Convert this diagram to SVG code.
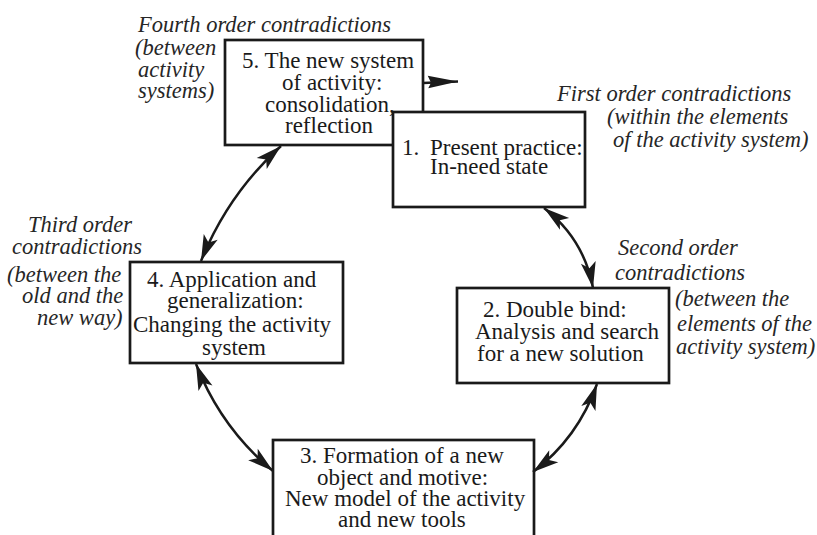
<svg xmlns="http://www.w3.org/2000/svg" width="817" height="535" viewBox="0 0 817 535">
  <style>
    .box { fill: #ffffff; stroke: #1a1a1a; stroke-width: 2.7; }
    .t { font-family: "Liberation Serif", "Times New Roman", serif; font-size: 23px; fill: #1a1a1a; }
    .i { font-family: "Liberation Serif", "Times New Roman", serif; font-style: italic; font-size: 22.5px; fill: #262626; }
    .conn { fill: none; stroke: #1a1a1a; stroke-width: 2.5; }
  </style>
  <defs>
    <!-- long, slightly notched arrowhead used at both ends of the cycle arcs -->
    <marker id="head" markerUnits="userSpaceOnUse" viewBox="-30 -9 32 18" refX="0" refY="0" markerWidth="32" markerHeight="18" orient="auto-start-reverse">
      <path d="M0,0 L-26,-7.5 L-20,0 L-26,7.5 Z" fill="#1a1a1a"/>
    </marker>
    <!-- pennant-shaped head on the outgoing arrow of stage 5 -->
    <marker id="flag" markerUnits="userSpaceOnUse" viewBox="-32 -9 34 18" refX="0" refY="0" markerWidth="34" markerHeight="18" orient="auto">
      <path d="M0,0 L-30,-7 L-27,0 L-30,5.5 Z" fill="#1a1a1a"/>
    </marker>
  </defs>

  <rect width="817" height="535" fill="#ffffff"/>

  <!-- contradiction labels -->
  <g id="label-fourth" class="i">
    <text x="138" y="32">Fourth order contradictions</text>
    <text x="135" y="55">(between</text>
    <text x="138" y="77">activity</text>
    <text x="138" y="98">systems)</text>
  </g>
  <g id="label-first" class="i">
    <text x="557" y="101">First order contradictions</text>
    <text x="607" y="124">(within the elements</text>
    <text x="613" y="147">of the activity system)</text>
  </g>
  <g id="label-second" class="i">
    <text x="618" y="255">Second order</text>
    <text x="615" y="280">contradictions</text>
    <text x="675" y="306">(between the</text>
    <text x="677" y="331">elements of the</text>
    <text x="676" y="354">activity system)</text>
  </g>
  <g id="label-third" class="i">
    <text x="28" y="232">Third order</text>
    <text x="12" y="254">contradictions</text>
    <text x="7" y="282">(between the</text>
    <text x="22" y="303">old and the</text>
    <text x="37" y="325">new way)</text>
  </g>

  <!-- stages of the cycle -->
  <g id="stage-5">
    <rect class="box" x="225" y="40" width="198" height="105"/>
    <text class="t" x="242" y="68">5. The new system</text>
    <text class="t" x="282" y="90">of activity:</text>
    <text class="t" x="265" y="111.5">consolidation,</text>
    <text class="t" x="285" y="133">reflection</text>
  </g>
  <g id="stage-1">
    <rect class="box" x="393" y="112" width="192" height="95"/>
    <text class="t" x="402" y="155">1. <tspan x="430">Present practice:</tspan></text>
    <text class="t" x="430" y="174">In-need state</text>
  </g>
  <g id="stage-2">
    <rect class="box" x="457" y="288" width="212" height="95"/>
    <text class="t" x="483" y="317">2. Double bind:</text>
    <text class="t" x="475" y="339">Analysis and search</text>
    <text class="t" x="477" y="361">for a new solution</text>
  </g>
  <g id="stage-3">
    <rect class="box" x="273" y="440" width="261" height="110"/>
    <text class="t" x="300" y="463">3. Formation of a new</text>
    <text class="t" x="317" y="485">object and motive:</text>
    <text class="t" x="285" y="506">New model of the activity</text>
    <text class="t" x="338" y="527">and new tools</text>
  </g>
  <g id="stage-4">
    <rect class="box" x="130" y="262" width="213" height="101"/>
    <text class="t" x="147" y="287">4. Application and</text>
    <text class="t" x="167" y="308">generalization:</text>
    <text class="t" x="133" y="332">Changing the activity</text>
    <text class="t" x="202" y="355">system</text>
  </g>

  <!-- connectors -->
  <g id="connectors">
    <path class="conn" d="M423,83 L458,81.5" marker-end="url(#flag)"/>
    <path class="conn" d="M281,146 Q228,194 201,261" marker-start="url(#head)" marker-end="url(#head)"/>
    <path class="conn" d="M544,208 Q584,239 593,288" marker-start="url(#head)" marker-end="url(#head)"/>
    <path class="conn" d="M196,364 Q221,428 273,471" marker-start="url(#head)" marker-end="url(#head)"/>
    <path class="conn" d="M597,384 Q578,438 533,472" marker-start="url(#head)" marker-end="url(#head)"/>
  </g>
</svg>
